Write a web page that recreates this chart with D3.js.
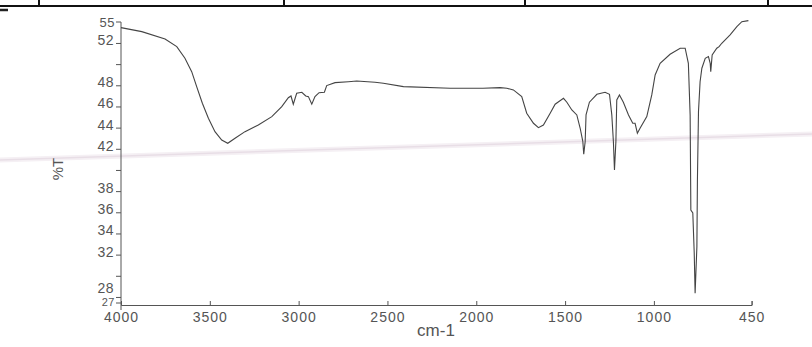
<!DOCTYPE html>
<html lang="en">
<head>
<meta charset="UTF-8">
<title>IR spectrum</title>
<script src="https://cdnjs.cloudflare.com/ajax/libs/d3/7.8.5/d3.min.js"></script>
<style>
  body { margin: 0; background: #fff; }
  svg { display: block; }
  .lbl { font-family: "Liberation Sans", Arial, sans-serif; fill: #555; }
</style>
</head>
<body>
<svg id="chart" width="812" height="347"></svg>
<script>
// wavenumber (cm-1) and %T
var wavenumber = [4000, 3883, 3752, 3686, 3640, 3602, 3574, 3542, 3508, 3471, 3433, 3399, 3358, 3302,
  3227, 3151, 3095, 3058, 3043, 3030, 3011, 2982, 2960, 2945, 2926, 2908, 2885, 2855, 2842, 2795,
  2720, 2673, 2570, 2523, 2410, 2147, 1962, 1866, 1828, 1791, 1744, 1716, 1678, 1650, 1622, 1584,
  1556, 1509, 1490, 1462, 1434, 1415, 1400, 1395, 1387, 1382, 1363, 1321, 1275, 1250, 1237, 1228,
  1222, 1214, 1209, 1194, 1172, 1143, 1119, 1106, 1093, 1078, 1040, 1012, 993, 965, 909, 852, 824,
  806, 796, 792, 781, 773, 768, 758, 755, 749, 740, 730, 711, 693, 683, 680, 672, 646, 633, 618,
  571, 533, 505, 468];
var transmittance = [53.45, 53.07, 52.38, 51.65, 50.55, 49.29, 47.87, 46.30, 44.88, 43.62, 42.83, 42.52, 42.99, 43.62,
  44.25, 45.04, 45.98, 46.83, 46.99, 46.21, 47.25, 47.34, 46.99, 46.93, 46.21, 46.93, 47.30, 47.34, 47.97, 48.25,
  48.34, 48.41, 48.29, 48.19, 47.87, 47.72, 47.72, 47.78, 47.72, 47.56, 46.93, 45.36, 44.41, 44.00, 44.25, 45.36,
  46.21, 46.77, 46.40, 45.67, 45.20, 43.94, 42.67, 41.48, 42.67, 45.20, 46.40, 47.15, 47.34, 47.15, 45.20, 42.67,
  40.00, 42.67, 46.61, 47.09, 46.40, 45.20, 44.41, 44.41, 43.47, 43.94, 45.04, 47.09, 48.98, 50.08, 50.93, 51.50, 51.50,
  50.08, 45.20, 36.22, 35.94, 32.16, 28.35, 32.75, 39.06, 45.51, 48.34, 49.61, 50.55, 50.71, 50.08, 49.29, 50.87, 51.50, 51.65, 51.97,
  52.76, 53.54, 54.01, 54.11];

var xTicks = [4000, 3500, 3000, 2500, 2000, 1500, 1000, 450];
var yTicks = [52, 48, 46, 44, 42, 38, 36, 34, 32, 28];
var yMinor = [50, 40, 30];
var yEndLabels = ["55", "27"];

var svg = d3.select("#chart");

// scan artefact: header rule of the page the chart was cut from
svg.append("line").attr("x1", 0).attr("x2", 812).attr("y1", 6).attr("y2", 6)
  .attr("stroke", "#111").attr("stroke-width", 2);
[39, 284, 525, 768].forEach(function(x) {
  svg.append("line").attr("x1", x).attr("x2", x).attr("y1", 0).attr("y2", 6)
    .attr("stroke", "#111").attr("stroke-width", 2);
});
svg.append("line").attr("x1", 0).attr("x2", 8).attr("y1", 10).attr("y2", 10)
  .attr("stroke", "#222").attr("stroke-width", 2.5);

// faint pink streak across the scan
svg.append("line").attr("x1", 0).attr("y1", 160).attr("x2", 812).attr("y2", 134)
  .attr("stroke", "#f5f0f4").attr("stroke-width", 5);
svg.append("line").attr("x1", 0).attr("y1", 160).attr("x2", 812).attr("y2", 134)
  .attr("stroke", "#e8dee6").attr("stroke-width", 1.5);

var x = d3.scaleLinear().domain([4000, 450]).range([121, 751.6]);
var y = d3.scaleLinear().domain([27.24, 53.98]).range([305, 22]);

// x axis
var xa = svg.append("g").attr("transform", "translate(0,305)")
  .call(d3.axisBottom(x).tickValues(xTicks).tickSize(-4).tickPadding(6).tickFormat(d3.format("d")));
xa.select(".domain").attr("stroke", "#555");
xa.selectAll(".tick line").attr("stroke", "#555");
xa.selectAll("text").attr("class", "lbl").attr("font-size", 14).attr("letter-spacing", 1)
  .attr("dy", "0.9em").attr("y", 4);

// y axis
var ya = svg.append("g").attr("transform", "translate(121,0)")
  .call(d3.axisLeft(y).tickValues(yTicks.concat(yMinor)).tickSize(5).tickPadding(2)
    .tickFormat(function(d) { return yMinor.indexOf(d) >= 0 ? "" : d; }));
ya.select(".domain").attr("stroke", "#555").attr("d", "M0,22V310");
ya.selectAll(".tick line").attr("stroke", "#555");
ya.selectAll("text").attr("class", "lbl").attr("font-size", 14).attr("letter-spacing", 0.5)
  .attr("dy", function(d) { return d === 28 ? "-0.32em" : "0.1em"; });

// end labels of the y axis
svg.selectAll(".yend").data(yEndLabels).enter().append("text")
  .attr("class", "lbl").attr("font-size", function(d, i) { return i === 0 ? 13 : 11; })
  .attr("letter-spacing", 0.5)
  .attr("text-anchor", "end").attr("x", 115)
  .attr("y", function(d, i) { return i === 0 ? y.range()[1] + 5 : y.range()[0] + 1; })
  .text(function(d) { return d; });
svg.append("line").attr("x1", 116).attr("x2", 121).attr("y1", 22).attr("y2", 22).attr("stroke", "#555");
svg.append("line").attr("x1", 116).attr("x2", 121).attr("y1", 303).attr("y2", 303).attr("stroke", "#555");

// axis titles
svg.append("text").attr("class", "lbl").attr("font-size", 17).attr("fill", "#666")
  .attr("text-anchor", "middle").attr("x", 436).attr("y", 336).text("cm-1");
svg.append("text").attr("class", "lbl").attr("font-size", 15).attr("fill", "#888")
  .attr("text-anchor", "middle").attr("transform", "translate(63,169) rotate(-90)").text("%T");

// spectrum
var pts = wavenumber.map(function(w, i) { return [w, transmittance[i]]; });
svg.append("path").datum(pts)
  .attr("fill", "none").attr("stroke", "#444").attr("stroke-width", 1.1)
  .attr("d", d3.line().x(function(d) { return x(d[0]); }).y(function(d) { return y(d[1]); }));
</script>
</body>
</html>
